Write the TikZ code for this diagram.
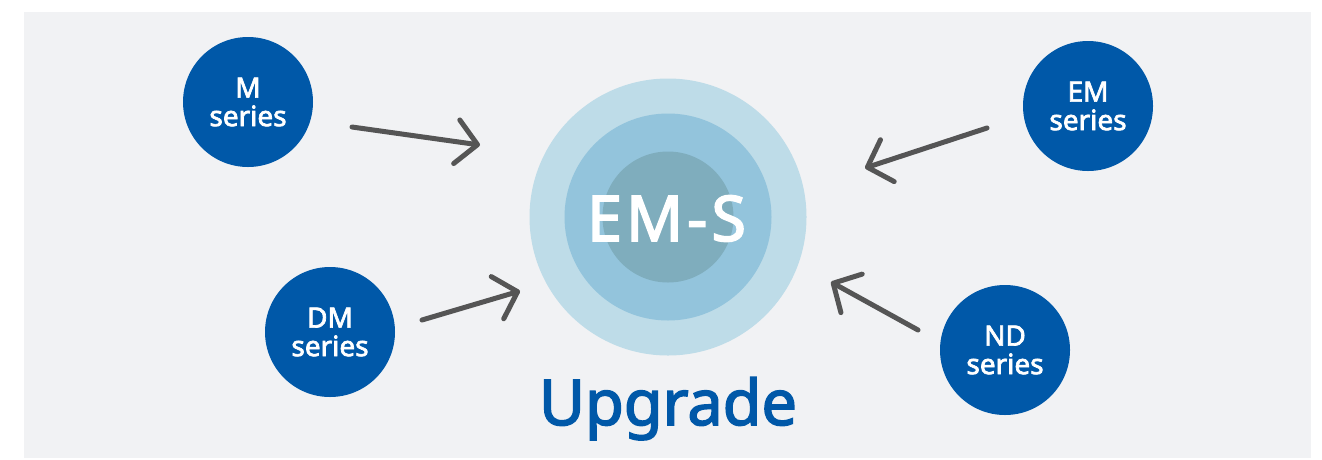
\documentclass[tikz,border=0pt]{standalone}
\usepackage{fontspec}
\setmainfont{Noto Sans}[BoldFont={Noto Sans},BoldFeatures={FakeBold=2.5}]
\usetikzlibrary{arrows.meta}
\definecolor{bggray}{HTML}{F1F2F4}
\definecolor{seriesblue}{HTML}{0058A8}
\definecolor{ringA}{HTML}{BEDCE8}
\definecolor{ringB}{HTML}{93C4DC}
\definecolor{ringC}{HTML}{7FADBD}
\definecolor{arrowgray}{HTML}{555555}
\begin{document}
\begin{tikzpicture}[x=1pt,y=-1pt,
  series/.style={circle,fill=seriesblue,minimum size=130pt,inner sep=0pt,
    text=white,font=\bfseries\fontsize{28}{28.5}\selectfont,align=center},
  ring/.style={circle,inner sep=0pt},
  flow/.style={draw=arrowgray,line width=5pt,line cap=round,line join=round,
    -{Straight Barb[length=21pt,width=44pt,line cap=round,line join=round]}}]
\useasboundingbox (0,0) rectangle (1322,459);
\fill[white] (0,0) rectangle (1322,459);
\fill[bggray] (24,12) rectangle (1311,458);
% central rings
\node[ring,fill=ringA,minimum size=277pt] (outer) at (668,217) {};
\node[ring,fill=ringB,minimum size=207pt] (middle) at (668,217) {};
\node[ring,fill=ringC,minimum size=131pt] (inner) at (668,217) {};
\node[text=white,font=\bfseries\fontsize{63}{63}\selectfont,anchor=base,inner sep=0pt] (ems) at (666.5,241) {E\kern4pt M\kern4pt -\kern4pt S};
\node[text=seriesblue,font=\bfseries\fontsize{63}{63}\selectfont,anchor=base] (upgrade) at (668,425) {Upgrade};
% series circles
\node[series] (m) at (248,102) {M\\series};
\node[series] (em) at (1088,106) {EM\\series};
\node[series] (dm) at (330,332) {DM\\series};
\node[series] (nd) at (1005,350) {ND\\series};
% arrow ends
\coordinate (mA) at (352,127);  \coordinate (mB) at (480,145);
\coordinate (emA) at (987,128); \coordinate (emB) at (865,168);
\coordinate (dmA) at (422,320); \coordinate (dmB) at (520,291);
\coordinate (ndA) at (918,330); \coordinate (ndB) at (831,282);
\draw[flow] (mA) -- (mB);
\draw[flow] (emA) -- (emB);
\draw[flow] (dmA) -- (dmB);
\draw[flow] (ndA) -- (ndB);
\end{tikzpicture}
\end{document}
